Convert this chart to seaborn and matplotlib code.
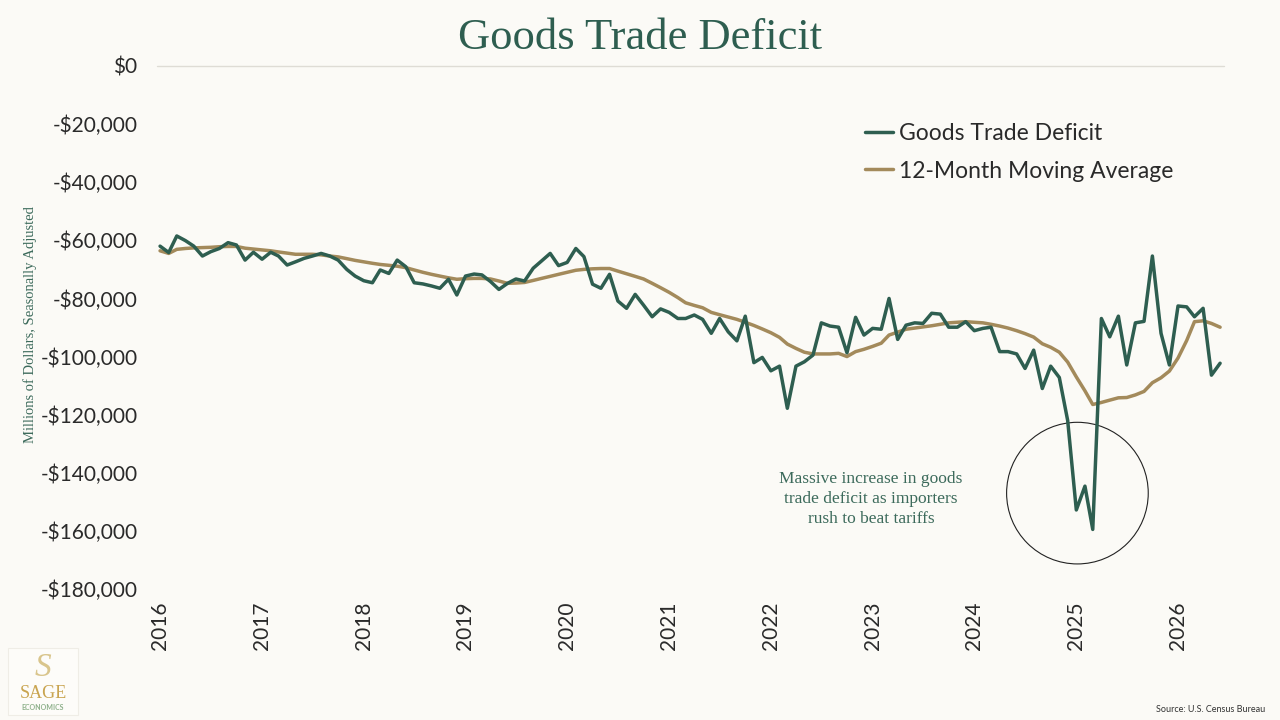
import matplotlib
matplotlib.use("Agg")
import matplotlib.pyplot as plt
from matplotlib.ticker import FuncFormatter, MultipleLocator
from matplotlib.lines import Line2D
import seaborn as sns
import pandas as pd

# monthly goods trade balance, thousands of millions of dollars
months = pd.date_range("2016-01-01", periods=126, freq="MS")
goods_deficit = [
    -62.0, -64.2, -58.5, -60.1, -62.0, -65.4, -63.9, -62.8, -60.8, -61.6, -66.8, -64.1,
    -66.5, -64.1, -65.4, -68.5, -67.4, -66.2, -65.4, -64.5, -65.4, -66.8, -70.0, -72.3,
    -73.9, -74.6, -70.2, -71.4, -66.8, -69.1, -74.6, -75.0, -75.7, -76.5, -73.4, -78.8,
    -72.3, -71.6, -71.9, -74.2, -76.9, -74.8, -73.3, -74.0, -69.6, -67.1, -64.5, -68.7,
    -67.6, -62.8, -65.6, -75.1, -76.5, -71.7, -80.9, -83.4, -78.6, -82.3, -86.3, -83.6,
    -84.8, -86.9, -86.9, -85.7, -87.2, -92.0, -86.9, -91.5, -94.6, -86.1, -102.1, -100.3,
    -104.9, -103.3, -117.8, -103.3, -101.8, -99.5, -88.4, -89.5, -89.9, -98.7, -86.5, -92.6,
    -90.3, -90.6, -80.0, -94.1, -89.2, -88.4, -88.6, -85.1, -85.4, -89.9, -89.9, -88.0,
    -91.1, -90.3, -89.9, -98.3, -98.3, -99.1, -104.1, -97.8, -111.0, -103.3, -107.2, -122.0,
    -152.8, -144.6, -159.5, -86.9, -93.2, -86.1, -102.9, -88.4, -87.9, -65.4, -92.0, -102.9,
    -82.6, -82.9, -86.3, -83.4, -106.4, -102.3,
]
moving_avg = [
    -63.6, -64.5, -63.1, -62.8, -62.6, -62.5, -62.4, -62.2, -62.1, -62.1, -62.7, -63.0,
    -63.3, -63.6, -64.0, -64.4, -64.8, -64.8, -64.8, -65.0, -65.4, -65.7, -66.3, -66.9,
    -67.4, -67.9, -68.3, -68.6, -68.9, -69.4, -70.2, -71.0, -71.7, -72.3, -72.9, -73.4,
    -73.2, -73.1, -73.1, -73.3, -74.0, -74.8, -74.7, -74.5, -73.8, -73.1, -72.4, -71.7,
    -71.0, -70.3, -70.0, -69.8, -69.7, -69.7, -70.6, -71.5, -72.4, -73.3, -74.8, -76.3,
    -77.9, -79.7, -81.5, -82.4, -83.2, -84.8, -85.6, -86.4, -87.2, -88.2, -89.3, -90.5,
    -91.8, -93.4, -95.7, -97.2, -98.5, -99.1, -99.1, -99.1, -98.9, -100.0, -98.3, -97.5,
    -96.5, -95.4, -92.6, -91.6, -90.6, -90.2, -89.8, -89.4, -88.9, -88.4, -88.2, -88.0,
    -88.2, -88.4, -88.9, -89.5, -90.2, -91.1, -92.1, -93.3, -95.6, -96.8, -98.5, -101.9,
    -107.0, -111.8, -116.5, -115.8, -115.0, -114.2, -114.1, -113.2, -112.0, -109.0, -107.3, -105.0,
    -100.5, -94.5, -88.0, -87.7, -88.6, -89.9,
]
year_ticks = pd.date_range("2016-01-01", "2026-01-01", freq="YS")
year_labels = [str(d.year) for d in year_ticks]

series_names = ["Goods Trade Deficit", "12-Month Moving Average"]
note_text = "Massive increase in goods\ntrade deficit as importers\nrush to beat tariffs"

BG = "#FBFAF6"
GREEN = "#2E5E50"
TAN = "#A38A5B"
TEXT = "#2A2A2A"

sns.set_theme(style="white")
plt.rcParams["font.family"] = ["Lato", "DejaVu Sans"]

df = pd.DataFrame({
    "month": months,
    series_names[0]: [v * 1000 for v in goods_deficit],
    series_names[1]: [v * 1000 for v in moving_avg],
})
long_df = df.melt(id_vars="month", var_name="series", value_name="value")

fig = plt.figure(figsize=(12.8, 7.2), dpi=100, facecolor=BG)
ax = fig.add_axes([157 / 1280, 1 - 589 / 720, (1224 - 157) / 1280, (589 - 66) / 720])
ax.set_facecolor(BG)

# moving average drawn first so the monthly line sits on top
sns.lineplot(data=long_df, x="month", y="value", hue="series",
             hue_order=[series_names[1], series_names[0]],
             palette={series_names[0]: GREEN, series_names[1]: TAN},
             linewidth=2.5, ax=ax, legend=False)

ax.set_xlim(pd.Timestamp("2015-12-21"), pd.Timestamp("2026-06-15"))
ax.set_ylim(-180000, 0)
ax.axhline(0, color="#DEDCD5", lw=1.0, clip_on=False, zorder=0)

ax.yaxis.set_major_locator(MultipleLocator(20000))
ax.yaxis.set_major_formatter(FuncFormatter(
    lambda v, _: "$0" if v == 0 else f"-${abs(v):,.0f}"))
ax.set_xticks(year_ticks)
ax.set_xticklabels(year_labels, rotation=90)
ax.tick_params(axis="y", length=0, pad=14, labelsize=15, labelcolor=TEXT)
ax.tick_params(axis="x", length=0, pad=9, labelsize=15, labelcolor=TEXT)
ax.set_xlabel("")
ax.set_ylabel("")
for s in ax.spines.values():
    s.set_visible(False)

# legend
handles = [Line2D([], [], color=GREEN, lw=2.5), Line2D([], [], color=TAN, lw=2.5)]
fig.legend(handles, series_names, loc="upper left",
           bbox_to_anchor=(865 / 1280, 1 - 123 / 720), frameon=False,
           fontsize=16.5, handlelength=1.2, handletextpad=0.3,
           labelspacing=0.72, borderpad=0, borderaxespad=0, labelcolor=TEXT)

# circled annotation around the early-2025 spike
ax.scatter([pd.Timestamp("2025-01-05")], [-147000], s=10400, facecolors="none",
           edgecolors="#222222", linewidths=0.8, zorder=1)
fig.text(871 / 1280, 1 - 499 / 720, note_text, ha="center", va="center",
         fontsize=12.5, family="Liberation Serif", color="#3C6A5B", linespacing=1.35)

# titles and labels
fig.text(0.5, 1 - 38 / 720, "Goods Trade Deficit", ha="center", va="center",
         fontsize=32, family="Liberation Serif", color=GREEN)
fig.text(30 / 1280, 1 - 325 / 720, "Millions of Dollars, Seasonally Adjusted",
         rotation=90, ha="center", va="center", fontsize=10.5,
         family="Liberation Serif", color="#3C6A5B")
fig.text(1265 / 1280, 1 - 710 / 720, "Source: U.S. Census Bureau", ha="right",
         va="center", fontsize=6.5, color="#333333")

# logo block
fig.patches.append(plt.Rectangle((8 / 1280, 1 - 715 / 720), 70 / 1280, 67 / 720,
                                 transform=fig.transFigure, facecolor="#FDFCF9",
                                 edgecolor="#EFEDE6", lw=0.8))
fig.text(43 / 1280, 1 - 668 / 720, "S", ha="center", va="center", fontsize=24,
         family="Liberation Serif", color="#D9C58C", style="italic")
fig.text(43 / 1280, 1 - 694 / 720, "SAGE", ha="center", va="center", fontsize=13,
         family="Liberation Serif", color="#C9A44F")
fig.text(43 / 1280, 1 - 708 / 720, "ECONOMICS", ha="center", va="center", fontsize=5,
         color="#8DB08A", weight="bold")

fig.savefig("out.png", dpi=100, facecolor=BG)
